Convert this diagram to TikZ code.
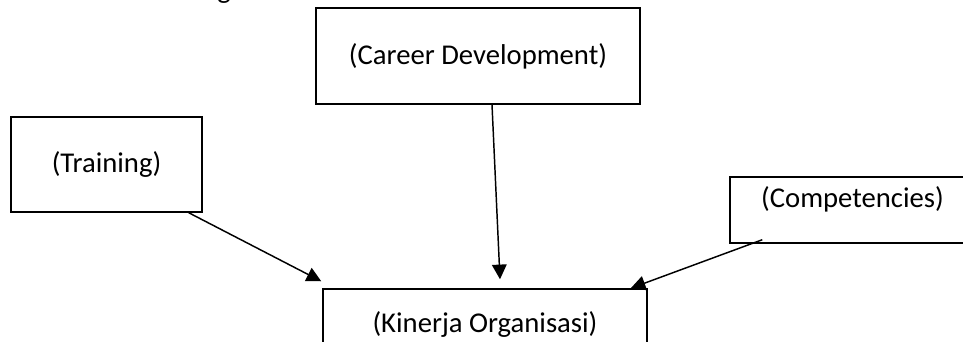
\documentclass[tikz,border=0pt]{standalone}
\usepackage{fontspec}
\setmainfont{Carlito}
\usetikzlibrary{arrows.meta,calc}

\begin{document}
\begin{tikzpicture}[x=0.75pt,y=-0.75pt,
        varbox/.style={draw, line width=1.1pt, font=\fontsize{21.5}{26}\selectfont, inner sep=0pt},
        arr/.style={line width=1.1pt, -{Triangle[length=11pt,width=11pt]}}]
            \useasboundingbox (0,0) rectangle (963,342);
            \clip (0,0) rectangle (963,342);
            % cut-off heading above the picture
            \node[anchor=base, font=\fontsize{21.5}{26}\selectfont, inner sep=0pt] (head) at (224,-1) {g};
            \node[varbox, minimum width=324*0.75pt, minimum height=96*0.75pt] (career) at (478,56) {(Career Development)};
            \node[varbox, minimum width=191*0.75pt, minimum height=95*0.75pt] (train)  at (106.5,164.5) {(Training)};
            \node[varbox, minimum width=245*0.75pt, minimum height=66*0.75pt, text depth=26*0.75pt] (comp) at (852.5,210) {(Competencies)};
            \node[varbox, minimum width=324*0.75pt, minimum height=71*0.75pt] (kin) at (485,324.5) {(Kinerja Organisasi)};
            \draw[arr] ($(train.south east)+(-14,0)$) -- ($(kin.north west)+(-1,-7)$);
            \draw[arr] ($(career.south)+(14,0)$) -- ($(kin.north)+(15,-9)$);
            \draw[arr] ($(comp.south west)+(33,-4)$) -- ($(kin.north east)+(-17,0)$);
        \end{tikzpicture}
\end{document}
